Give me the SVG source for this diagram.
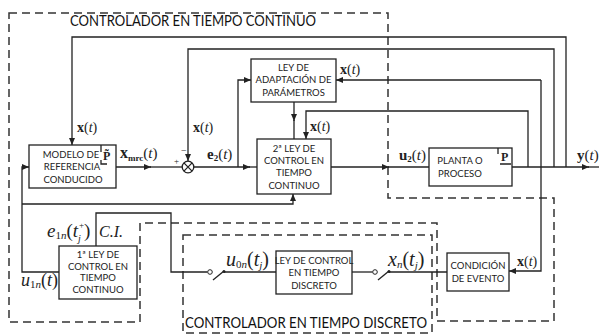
<svg xmlns="http://www.w3.org/2000/svg" width="599" height="334" viewBox="0 0 599 334">
<defs>
<marker id="ar" markerUnits="userSpaceOnUse" markerWidth="8" markerHeight="6" refX="7" refY="3" orient="auto"><path d="M0,0 L7,3 L0,6 z" fill="#222"/></marker>
<style>
.bx{fill:#fff;stroke:#222;stroke-width:1.3}
.ln{fill:none;stroke:#222;stroke-width:1.3}
.ds{fill:none;stroke:#333;stroke-width:1.5;stroke-dasharray:8 5}
.bt{font-family:Lato,"Liberation Sans",sans-serif;font-size:9.5px;fill:#222;text-anchor:middle}
.tt{font-family:Lato,"Liberation Sans",sans-serif;font-size:15px;fill:#111}
.m{font-family:"Liberation Serif",serif;font-size:14px;fill:#222}
.b{font-weight:bold}
.i{font-style:italic}
.s{font-size:9px}
.s2{font-size:11px}
</style>
</defs>
<rect width="599" height="334" fill="#fff"/>
<g id="boundaries">
<path class="ds" d="M9,13 H388 V198 H554 V321 H437 V223 H140 V322 H9 Z"/>
<rect class="ds" x="183" y="235" width="249" height="98"/>
<text class="tt" x="70" y="26" textLength="246" lengthAdjust="spacingAndGlyphs">CONTROLADOR EN TIEMPO CONTINUO</text>
<text class="tt" x="185" y="328" textLength="242" lengthAdjust="spacingAndGlyphs">CONTROLADOR EN TIEMPO DISCRETO</text>
</g>
<g id="connectors">
<path class="ln" d="M116,167 H151" marker-end="url(#ar)"/>
<path class="ln" d="M150,167 H182"/>
<circle cx="188" cy="167" r="5.8" fill="#fff" stroke="#222" stroke-width="1.3"/>
<path class="ln" d="M183.9,162.9 L192.1,171.1 M192.1,162.9 L183.9,171.1"/>
<path class="ln" d="M194,167 H250" marker-end="url(#ar)"/>
<path class="ln" d="M249,167 H257"/>
<path class="ln" d="M238,167 V80 H251" marker-end="url(#ar)"/>
<path class="ln" d="M294,102 V121" marker-end="url(#ar)"/>
<path class="ln" d="M294,120 V139"/>
<path class="ln" d="M566,167 V37 H72 V145" marker-end="url(#ar)"/>
<path class="ln" d="M554,167 V49 H188 V161" marker-end="url(#ar)"/>
<path class="ln" d="M541,80 H336" marker-end="url(#ar)"/>
<path class="ln" d="M541,80 V271 H509" marker-end="url(#ar)"/>
<path class="ln" d="M528,167 V111 H306 V139" marker-end="url(#ar)"/>
<path class="ln" d="M331,167 H389" marker-end="url(#ar)"/>
<path class="ln" d="M388,167 H429"/>
<path class="ln" d="M512,167 H589" marker-end="url(#ar)"/>
<path class="ln" d="M588,167 H599"/>
<path class="ln" d="M59,272 H22 V167 H29" marker-end="url(#ar)"/>
<path class="ln" d="M22,204 H293 V194" marker-end="url(#ar)"/>
<path class="ln" d="M96,246 V213 H171 V272 H207.5"/>
<circle cx="210" cy="272" r="2.3" fill="#fff" stroke="#222" stroke-width="1"/>
<path class="ln" d="M213,280 L224,271" stroke-width="1.6"/>
<circle cx="224" cy="271.5" r="1.5" fill="#222"/>
<path class="ln" d="M224,272 H276"/>
<path class="ln" d="M352,272 H372.5"/>
<circle cx="375" cy="272" r="2.3" fill="#fff" stroke="#222" stroke-width="1"/>
<path class="ln" d="M378,280 L389,271" stroke-width="1.6"/>
<circle cx="389" cy="271.5" r="1.5" fill="#222"/>
<path class="ln" d="M389,272 H447"/>
</g>
<g id="modelo">
<rect class="bx" x="29" y="145" width="87" height="43"/>
<text class="bt" x="71" y="158">MODELO DE</text>
<text class="bt" x="72" y="170">REFERENCIA</text>
<text class="bt" x="73" y="183">CONDUCIDO</text>
<path class="ln" d="M101,145 V152 M101,160 V164 H107" stroke-width="1"/>
<text class="m b" x="103" y="160" style="font-size:12px">P̃</text>
</g>
<g id="adaptacion">
<rect class="bx" x="251" y="59" width="85" height="43"/>
<text class="bt" x="293.5" y="71">LEY DE</text>
<text class="bt" x="293.5" y="83">ADAPTACIÓN DE</text>
<text class="bt" x="293.5" y="96">PARÁMETROS</text>
</g>
<g id="ley2">
<rect class="bx" x="257" y="139" width="74" height="55"/>
<text class="bt" x="294" y="152">2ª LEY DE</text>
<text class="bt" x="294" y="164">CONTROL EN</text>
<text class="bt" x="294" y="176">TIEMPO</text>
<text class="bt" x="294" y="189">CONTINUO</text>
</g>
<g id="planta">
<rect class="bx" x="429" y="148" width="83" height="38"/>
<text class="bt" x="460" y="164">PLANTA O</text>
<text class="bt" x="460" y="177">PROCESO</text>
<path class="ln" d="M498,148 V154 M500,164 H511" stroke-width="1"/>
<text class="m b" x="501" y="161" style="font-size:12px">P</text>
</g>
<g id="ley1">
<rect class="bx" x="59" y="246" width="78" height="53"/>
<text class="bt" x="98" y="258">1ª LEY DE</text>
<text class="bt" x="98" y="270">CONTROL EN</text>
<text class="bt" x="98" y="281">TIEMPO</text>
<text class="bt" x="98" y="293">CONTINUO</text>
</g>
<g id="discreto">
<rect class="bx" x="276" y="251" width="76" height="43"/>
<text class="bt" x="314" y="264">LEY DE CONTROL</text>
<text class="bt" x="314" y="276">EN TIEMPO</text>
<text class="bt" x="314" y="289">DISCRETO</text>
</g>
<g id="evento">
<rect class="bx" x="447" y="253" width="62" height="38"/>
<text class="bt" x="478" y="269">CONDICIÓN</text>
<text class="bt" x="478" y="282">DE EVENTO</text>
</g>
<g id="labels">
<text class="m" x="77" y="132"><tspan class="b">x</tspan>(<tspan class="i">t</tspan>)</text>
<text class="m" x="193" y="132"><tspan class="b">x</tspan>(<tspan class="i">t</tspan>)</text>
<text class="m" x="340" y="74"><tspan class="b">x</tspan>(<tspan class="i">t</tspan>)</text>
<text class="m" x="310" y="131"><tspan class="b">x</tspan>(<tspan class="i">t</tspan>)</text>
<text class="m" x="517" y="266"><tspan class="b">x</tspan>(<tspan class="i">t</tspan>)</text>
<text class="m" x="120" y="158" style="font-size:15px"><tspan class="b" style="font-size:16px">x</tspan><tspan class="b s" dy="3">mrc</tspan><tspan dy="-3">(</tspan><tspan class="i">t</tspan>)</text>
<text class="m" x="174" y="164" style="font-size:9px">+</text>
<text class="m" x="181" y="154" style="font-size:10px">−</text>
<text class="m" x="207" y="159" style="font-size:15px"><tspan class="b">e</tspan><tspan class="b s" dy="2">2</tspan><tspan dy="-2">(</tspan><tspan class="i">t</tspan>)</text>
<text class="m" x="399" y="160" style="font-size:15px"><tspan class="b">u</tspan><tspan class="b s" dy="2">2</tspan><tspan dy="-2">(</tspan><tspan class="i">t</tspan>)</text>
<text class="m" x="577" y="160" style="font-size:15px"><tspan class="b">y</tspan>(<tspan class="i">t</tspan>)</text>
<text class="m" x="47" y="237" style="font-size:19px"><tspan class="i">e</tspan><tspan class="s2" dy="2">1</tspan><tspan class="s2 i">n</tspan><tspan dy="-2">(</tspan><tspan class="i">t</tspan></text>
<text class="m" x="79" y="228" style="font-size:9px">+</text>
<text class="m i" x="78" y="242" style="font-size:10px">j</text>
<text class="m" x="84" y="237" style="font-size:19px">)</text>
<text class="m i" x="99" y="237" style="font-size:16px">C.I.</text>
<text class="m" x="21" y="286" style="font-size:18px"><tspan class="i">u</tspan><tspan class="s2" dy="2">1</tspan><tspan class="s2 i">n</tspan><tspan dy="-2">(</tspan><tspan class="i">t</tspan>)</text>
<text class="m" x="226" y="266" style="font-size:20px"><tspan class="i">u</tspan><tspan class="s2" dy="2">0</tspan><tspan class="s2 i">n</tspan><tspan dy="-2">(</tspan><tspan class="i">t</tspan><tspan class="s2 i" dy="3">j</tspan><tspan dy="-3">)</tspan></text>
<text class="m" x="388" y="266" style="font-size:20px"><tspan class="i">x</tspan><tspan class="s2 i" dy="2">n</tspan><tspan dy="-2">(</tspan><tspan class="i">t</tspan><tspan class="s2 i" dy="3">j</tspan><tspan dy="-3">)</tspan></text>
</g>
</svg>
